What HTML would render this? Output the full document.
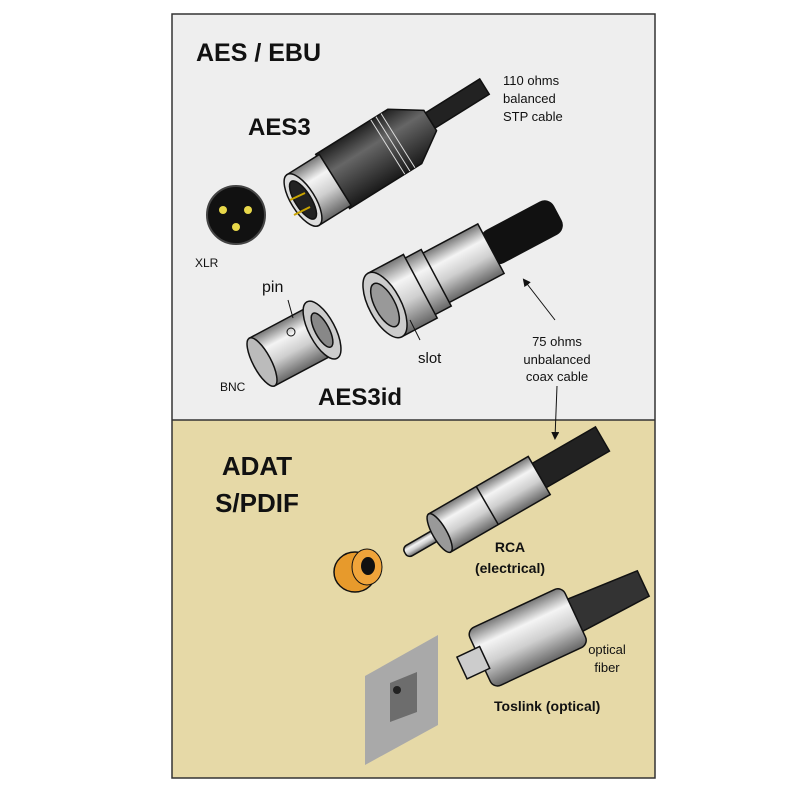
<!DOCTYPE html>
<html><head><meta charset="utf-8"><style>
html,body{margin:0;padding:0;background:#fff;}
svg{display:block;}
text{font-family:"Liberation Sans",sans-serif;fill:#111;}
.b{font-weight:bold;}
</style></head><body>
<svg width="800" height="800" viewBox="0 0 800 800" xmlns="http://www.w3.org/2000/svg">
<defs>
<linearGradient id="sil" x1="0" y1="0" x2="0" y2="1">
<stop offset="0" stop-color="#777"/><stop offset="0.3" stop-color="#f4f4f4"/><stop offset="0.6" stop-color="#cfcfcf"/><stop offset="1" stop-color="#666"/></linearGradient>
<linearGradient id="drk" x1="0" y1="0" x2="0" y2="1">
<stop offset="0" stop-color="#222"/><stop offset="0.35" stop-color="#666"/><stop offset="1" stop-color="#1a1a1a"/></linearGradient>
<marker id="ah" markerWidth="8" markerHeight="8" refX="6" refY="4" orient="auto"><path d="M0,0 L8,4 L0,8 z" fill="#111"/></marker>
</defs>
<rect x="172" y="14" width="483" height="406" fill="#eeeeee"/>
<rect x="172" y="420" width="483" height="358" fill="#e6d9a7"/>
<rect x="172" y="14" width="483" height="764" fill="none" stroke="#333" stroke-width="1.5"/>
<line x1="172" y1="420" x2="655" y2="420" stroke="#333" stroke-width="1.5"/>

<!-- XLR connector -->
<g transform="translate(303,200) rotate(-32)" stroke="#111" stroke-width="1.5">
<rect x="150" y="-9" width="64" height="18" fill="#222"/>
<path d="M35,-32 L120,-32 L150,-12 L150,12 L120,32 L35,32 z" fill="url(#drk)"/>
<line x1="100" y1="-32" x2="100" y2="32" stroke="#ddd" stroke-width="1"/>
<line x1="106" y1="-32" x2="106" y2="32" stroke="#ddd" stroke-width="1"/>
<line x1="112" y1="-32" x2="112" y2="32" stroke="#ddd" stroke-width="1"/>
<rect x="0" y="-30" width="38" height="60" fill="url(#sil)"/>
<ellipse cx="0" cy="0" rx="12" ry="30" fill="#ddd"/>
<ellipse cx="0" cy="0" rx="8" ry="22" fill="#222"/>
</g>
<line x1="290" y1="200" x2="305" y2="193" stroke="#c9a400" stroke-width="2"/>
<line x1="294" y1="215" x2="310" y2="207" stroke="#c9a400" stroke-width="2"/>

<!-- XLR face -->
<circle cx="236" cy="215" r="29" fill="#111" stroke="#444" stroke-width="2"/>
<circle cx="223" cy="210" r="4" fill="#e8d84a"/>
<circle cx="248" cy="210" r="4" fill="#e8d84a"/>
<circle cx="236" cy="227" r="4" fill="#e8d84a"/>

<!-- BNC male -->
<g transform="translate(385,305) rotate(-28)" stroke="#111" stroke-width="1.5">
<rect x="115" y="-18" width="80" height="36" rx="10" fill="#111"/>
<rect x="55" y="-28" width="65" height="56" fill="url(#sil)"/>
<rect x="38" y="-32" width="20" height="64" fill="url(#sil)"/>
<rect x="0" y="-36" width="40" height="72" fill="url(#sil)"/>
<ellipse cx="0" cy="0" rx="16" ry="36" fill="#ccc"/>
<ellipse cx="0" cy="0" rx="10" ry="24" fill="#999"/>
</g>

<!-- BNC female -->
<g transform="translate(262,362) rotate(-28)" stroke="#111" stroke-width="1.5">
<rect x="0" y="-27" width="68" height="54" fill="url(#sil)"/>
<ellipse cx="68" cy="0" rx="13" ry="32" fill="#ccc"/>
<ellipse cx="68" cy="0" rx="7" ry="19" fill="#888"/>
<ellipse cx="0" cy="0" rx="9" ry="27" fill="#bbb"/>
</g>
<circle cx="291" cy="332" r="4" fill="none" stroke="#111"/>

<!-- RCA -->
<g transform="translate(405,553) rotate(-30)" stroke="#111" stroke-width="1.5">
<path d="M150,-14 L228,-14 L228,14 L150,14 z" fill="#222"/>
<rect x="40" y="-22" width="115" height="44" fill="url(#sil)"/>
<line x1="95" y1="-22" x2="95" y2="22"/>
<rect x="0" y="-6" width="45" height="12" rx="5" fill="url(#sil)"/>
<ellipse cx="40" cy="0" rx="7" ry="22" fill="#999"/>
</g>

<!-- orange ring -->
<ellipse cx="355" cy="572" rx="21" ry="20" fill="#e79a2c" stroke="#111" stroke-width="1.5"/>
<ellipse cx="367" cy="567" rx="15" ry="18" fill="#f0a43a" stroke="#111" stroke-width="1"/>
<ellipse cx="368" cy="566" rx="7" ry="9" fill="#111"/>

<!-- Toslink -->
<g transform="translate(462,668) rotate(-25)" stroke="#111" stroke-width="1.5">
<path d="M120,-18 L200,-14 L200,14 L120,18 z" fill="#333"/>
<rect x="20" y="-32" width="105" height="64" rx="8" fill="url(#sil)"/>
<rect x="0" y="-12" width="25" height="24" fill="#ccc"/>
</g>

<!-- panel -->
<polygon points="365,676 438,635 438,725 365,765" fill="#a9a9a9"/>
<polygon points="390,683 417,672 417,712 390,722" fill="#6d6d6d"/>
<circle cx="397" cy="690" r="4" fill="#222"/>

<!-- arrows -->
<line x1="555" y1="320" x2="524" y2="280" stroke="#111" stroke-width="1" marker-end="url(#ah)"/>
<line x1="557" y1="386" x2="555" y2="438" stroke="#111" stroke-width="1" marker-end="url(#ah)"/>
<line x1="288" y1="300" x2="293" y2="318" stroke="#111" stroke-width="1"/>
<line x1="420" y1="340" x2="410" y2="320" stroke="#111" stroke-width="1"/>

<!-- text -->
<text x="196" y="61" class="b" font-size="25">AES / EBU</text>
<text x="248" y="135" class="b" font-size="24">AES3</text>
<text x="503" y="85" font-size="13">110 ohms</text>
<text x="503" y="103" font-size="13">balanced</text>
<text x="503" y="121" font-size="13">STP cable</text>
<text x="195" y="267" font-size="12">XLR</text>
<text x="262" y="292" font-size="16">pin</text>
<text x="418" y="363" font-size="15">slot</text>
<text x="220" y="391" font-size="12">BNC</text>
<text x="318" y="405" class="b" font-size="24">AES3id</text>
<text x="557" y="346" font-size="13" text-anchor="middle">75 ohms</text>
<text x="557" y="364" font-size="13" text-anchor="middle">unbalanced</text>
<text x="557" y="381" font-size="13" text-anchor="middle">coax cable</text>
<text x="257" y="475" class="b" font-size="26" text-anchor="middle">ADAT</text>
<text x="257" y="512" class="b" font-size="26" text-anchor="middle">S/PDIF</text>
<text x="510" y="552" class="b" font-size="14" text-anchor="middle">RCA</text>
<text x="510" y="573" class="b" font-size="14" text-anchor="middle">(electrical)</text>
<text x="607" y="654" font-size="13" text-anchor="middle">optical</text>
<text x="607" y="672" font-size="13" text-anchor="middle">fiber</text>
<text x="494" y="711" class="b" font-size="14">Toslink (optical)</text>
</svg>
</body></html>
